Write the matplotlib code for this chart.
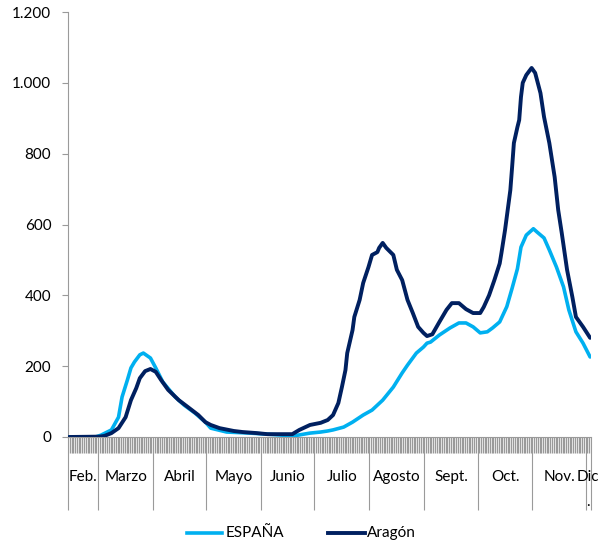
import matplotlib
matplotlib.use("Agg")
import matplotlib.pyplot as plt
from matplotlib.lines import Line2D
from matplotlib.ticker import FuncFormatter

plt.rcParams['font.family'] = ['Lato', 'DejaVu Sans']

# Days counted from 13 Feb 2020 (index 0) to 3 Dec 2020 (index 294)
n_days = 295
month_labels = ["Feb.", "Marzo", "Abril", "Mayo", "Junio", "Julio", "Agosto",
                "Sept.", "Oct.", "Nov.", "Dic"]
month_starts = [0, 17, 48, 78, 109, 139, 170, 201, 231, 262, 292, 295]

esp_days = [0, 15, 18, 24, 28, 30, 33, 35, 37, 40, 42, 46, 49, 53, 60, 65, 71, 77,
            80, 89, 102, 112, 121, 129, 136, 142, 146, 149, 155, 160, 166, 171, 177,
            183, 188, 191, 196, 200, 202, 204, 209, 215, 220, 224, 228, 232, 236,
            239, 243, 247, 250, 253, 255, 258, 262, 264, 268, 271, 275, 279, 282,
            286, 290, 294]
esp_vals = [0, 0, 5, 20, 56, 113, 161, 195, 212, 232, 237, 223, 195, 155, 113, 90,
            68, 42, 25, 14, 11, 8, 5, 5, 11, 14, 17, 20, 28, 42, 62, 76, 104, 141,
            181, 203, 237, 254, 265, 268, 288, 308, 322, 322, 311, 294, 297, 308,
            325, 368, 420, 475, 536, 570, 588, 579, 562, 528, 480, 424, 359, 297,
            265, 226]

ara_days = [0, 17, 20, 24, 28, 32, 35, 38, 40, 43, 46, 49, 52, 56, 62, 67, 73, 77,
            80, 85, 93, 98, 106, 112, 119, 126, 130, 136, 142, 146, 149, 152, 154,
            156, 157, 160, 161, 164, 166, 169, 171, 174, 175, 177, 179, 183, 185,
            188, 191, 194, 197, 200, 202, 205, 209, 213, 216, 220, 224, 228, 232,
            234, 237, 240, 243, 244, 246, 249, 250, 251, 253, 254, 255, 256, 258,
            261, 263, 266, 268, 271, 274, 276, 278, 281, 284, 286, 290, 294]
ara_vals = [0, 1, 3, 11, 25, 56, 104, 138, 166, 186, 192, 184, 161, 133, 104, 85,
            62, 42, 34, 25, 17, 14, 11, 8, 8, 8, 20, 34, 40, 48, 62, 96, 141, 189,
            237, 302, 339, 387, 435, 480, 514, 522, 534, 548, 534, 514, 472, 443,
            387, 350, 311, 294, 285, 290, 325, 359, 378, 378, 361, 350, 350, 367,
            400, 443, 490, 520, 584, 697, 762, 830, 875, 895, 960, 1000, 1022, 1042,
            1028, 971, 904, 830, 734, 641, 576, 472, 395, 339, 311, 280]

y_ticks = [0, 200, 400, 600, 800, 1000, 1200]

esp_color = "#00B0F0"
ara_color = "#002060"
grey = "#9a9a9a"

fig = plt.figure(figsize=(6.01, 5.46), dpi=100)
ax = fig.add_axes([68/601, 109/546, (591-68)/601, (437-12)/546])

ax.plot([d + 0.5 for d in esp_days], esp_vals, color=esp_color, lw=2.6,
        solid_joinstyle='round', solid_capstyle='round', zorder=3)
ax.plot([d + 0.5 for d in ara_days], ara_vals, color=ara_color, lw=2.8,
        solid_joinstyle='round', solid_capstyle='round', zorder=4)

ax.set_xlim(0, n_days)
ax.set_ylim(0, 1200)

for s in ['top', 'right']:
    ax.spines[s].set_visible(False)
for s in ['left', 'bottom']:
    ax.spines[s].set_color(grey)
    ax.spines[s].set_linewidth(0.8)

ax.set_yticks(y_ticks)
ax.yaxis.set_major_formatter(FuncFormatter(lambda v, p: f"{int(v):,}".replace(",", ".")))
ax.tick_params(axis='y', direction='out', length=4, width=0.8, color=grey,
               pad=8, labelsize=11, labelcolor='black')

ax.set_xticks(month_starts)
ax.set_xticklabels([])
ax.set_xticks(list(range(0, n_days + 1)), minor=True)
ax.tick_params(axis='x', which='major', direction='out', length=52.5, width=0.8,
               color=grey)
ax.tick_params(axis='x', which='minor', direction='out', length=11.8, width=0.95,
               color="#999999")

for i, lab in enumerate(month_labels):
    c = (month_starts[i] + month_starts[i + 1]) / 2
    ax.annotate(lab, xy=(c, 0), xycoords=('data', 'axes fraction'),
                xytext=(0, -29), textcoords='offset points',
                ha='center', va='center', fontsize=11, color='black',
                annotation_clip=False)
c_dec = (month_starts[-2] + month_starts[-1]) / 2
ax.annotate(".", xy=(c_dec, 0), xycoords=('data', 'axes fraction'),
            xytext=(0, -46.5), textcoords='offset points',
            ha='center', va='center', fontsize=11, color='black',
            annotation_clip=False)

# legend
ly = (546 - 533) / 546
fig.add_artist(Line2D([187/601, 222/601], [ly, ly], color=esp_color, lw=2.6,
                      transform=fig.transFigure))
fig.text(226/601, ly, "ESPAÑA", ha='left', va='center', fontsize=11)
fig.add_artist(Line2D([328/601, 365/601], [ly, ly], color=ara_color, lw=2.8,
                      transform=fig.transFigure))
fig.text(367/601, ly, "Aragón", ha='left', va='center', fontsize=11)

fig.savefig("out.png", dpi=100)
